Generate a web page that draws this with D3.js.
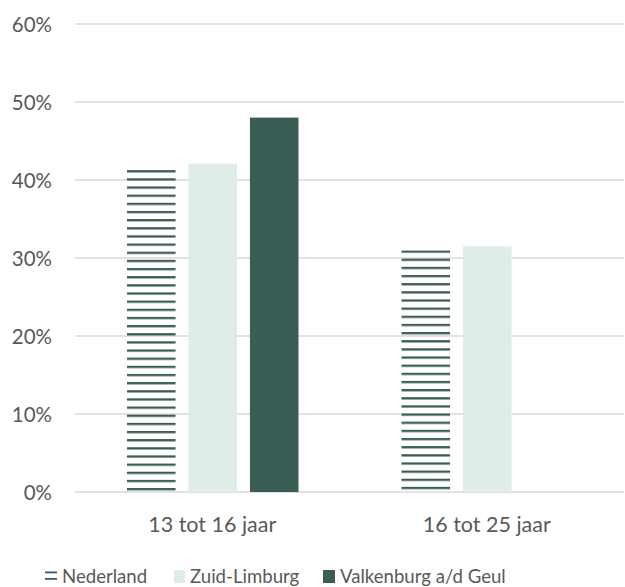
<!DOCTYPE html>
<html><head><meta charset="utf-8">
<script src="https://cdn.jsdelivr.net/npm/d3@7"></script>
<style>
body{margin:0;background:#fff;}
text{font-family:Lato,"Open Sans",sans-serif;fill:#595959;}
</style></head>
<body><svg id="c" width="625" height="587"></svg>
<script>
const categories = ["13 tot 16 jaar", "16 tot 25 jaar"];
const seriesNames = ["Nederland", "Zuid-Limburg", "Valkenburg a/d Geul"];
const nederland = [0.413, 0.31];
const zuidLimburg = [0.421, 0.315];
const valkenburg = [0.48, null];
const yTicks = [0, 0.1, 0.2, 0.3, 0.4, 0.5, 0.6];

const values = [nederland, zuidLimburg, valkenburg];
const dark = "#3a5e55", light = "#dfecea";

const svg = d3.select("#c");
const defs = svg.append("defs");

const y = d3.scaleLinear().domain([0,0.6]).range([492,24]);
const x = d3.scaleBand().domain(categories).range([75,624]);
const xs = d3.scaleBand().domain(seriesNames).range([52,223.5]).paddingInner(0.21);

// grid
svg.append("g").selectAll("line").data(yTicks).join("line")
  .attr("x1",75).attr("x2",624).attr("y1",d=>y(d)).attr("y2",d=>y(d))
  .attr("stroke","#d9d9d9").attr("stroke-width",1.3);

const yAxis = d3.axisLeft(y).tickValues(yTicks).tickFormat(d3.format(".0%")).tickSize(0).tickPadding(0);
const ya = svg.append("g").attr("transform","translate(52,0)").call(yAxis);
ya.select(".domain").remove();
ya.selectAll("text").style("font-size","20.5px").attr("fill","#595959").attr("dy","0.36em");

const fills = ["stripes", light, dark];
seriesNames.forEach((s,i)=>{
  const data = categories.map((c,j)=>({c,j,v:values[i][j]})).filter(d=>d.v!=null);
  if (fills[i]==="stripes") {
    data.forEach(d=>{
      const p = defs.append("pattern").attr("id","st"+d.j).attr("patternUnits","userSpaceOnUse")
        .attr("x",0).attr("y",y(d.v)+0.3).attr("width",10).attr("height",8.15);
      p.append("rect").attr("x",0).attr("y",0).attr("width",10).attr("height",2.3).attr("fill",dark);
    });
  }
  svg.append("g").selectAll("rect").data(data)
    .join("rect")
    .attr("x",d=>x(d.c)+xs(s)).attr("width",xs.bandwidth())
    .attr("y",d=>y(d.v)).attr("height",d=>y(0)-y(d.v))
    .attr("fill",d=>fills[i]==="stripes" ? `url(#st${d.j})` : fills[i]);
});

const xAxis = d3.axisBottom(x).tickSize(0).tickPadding(0);
const xa = svg.append("g").attr("transform","translate(0,492)").call(xAxis);
xa.select(".domain").remove();
xa.selectAll("text").style("font-size","21.5px").attr("fill","#595959").attr("y",32).attr("dy","0.36em");

// legend
const lg = svg.append("g");
const legendX = [45, 174, 323];
const textX = [62, 190, 340];
const ly = 583;
lg.append("rect").attr("x",legendX[0]).attr("y",ly-11.5).attr("width",12).attr("height",1.8).attr("fill",dark);
lg.append("rect").attr("x",legendX[0]).attr("y",ly-5).attr("width",12).attr("height",1.8).attr("fill",dark);
lg.append("rect").attr("x",legendX[1]).attr("y",ly-13).attr("width",11).attr("height",13).attr("fill",light);
lg.append("rect").attr("x",legendX[2]).attr("y",ly-13).attr("width",12).attr("height",13).attr("fill",dark);
seriesNames.forEach((s,i)=>{
  lg.append("text").attr("x",textX[i]).attr("y",ly)
    .style("font-size","18.6px").text(s);
});
</script></body></html>
